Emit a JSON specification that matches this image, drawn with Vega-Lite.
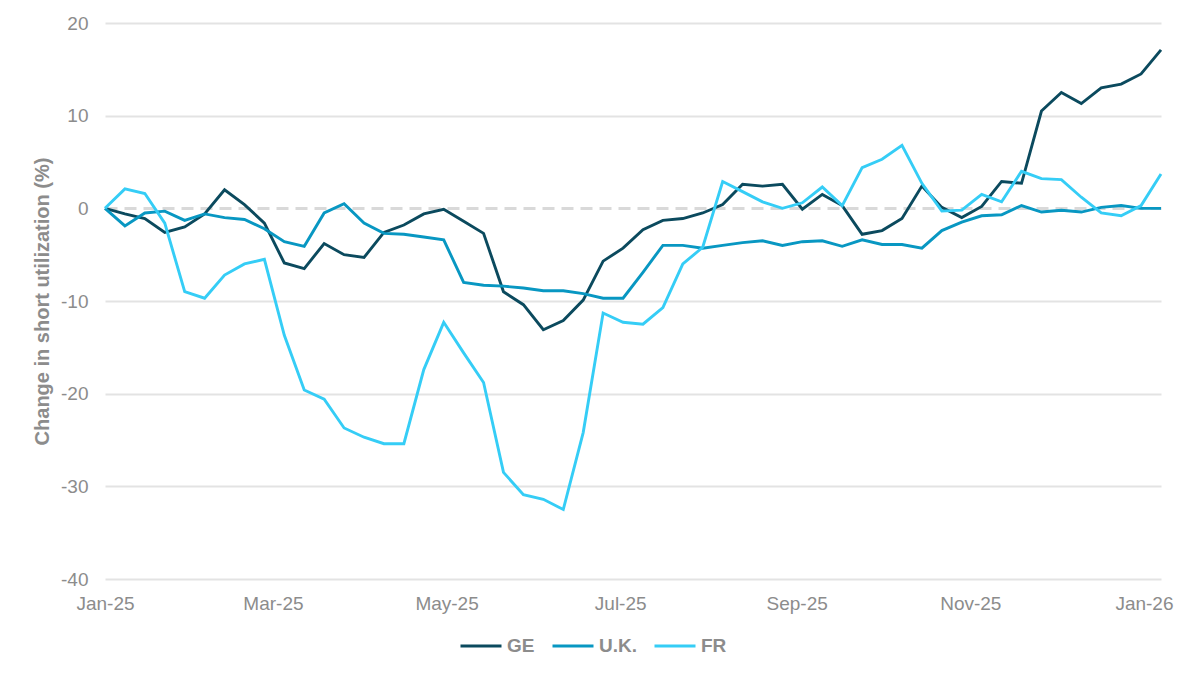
{
  "$schema": "https://vega.github.io/schema/vega-lite/v6.json",
  "width": 1056,
  "height": 556,
  "autosize": {"type": "none"},
  "padding": {"left": 105, "top": 23, "right": 25, "bottom": 99},
  "background": "#ffffff",
  "config": {
    "view": {"stroke": null},
    "font": "Liberation Sans"
  },
  "datasets": {
    "wide": [
      {"date": "2025-01-01", "GE": 0, "UK": 0, "FR": 0},
      {"date": "2025-01-08", "GE": -0.6, "UK": -1.9, "FR": 2.1},
      {"date": "2025-01-15", "GE": -1.1, "UK": -0.5, "FR": 1.6},
      {"date": "2025-01-22", "GE": -2.6, "UK": -0.3, "FR": -1.6},
      {"date": "2025-01-29", "GE": -2.0, "UK": -1.3, "FR": -9.0},
      {"date": "2025-02-05", "GE": -0.6, "UK": -0.6, "FR": -9.7},
      {"date": "2025-02-12", "GE": 2.0, "UK": -1.0, "FR": -7.2},
      {"date": "2025-02-19", "GE": 0.4, "UK": -1.2, "FR": -6.0},
      {"date": "2025-02-26", "GE": -1.6, "UK": -2.2, "FR": -5.5},
      {"date": "2025-03-05", "GE": -5.9, "UK": -3.6, "FR": -13.7},
      {"date": "2025-03-12", "GE": -6.5, "UK": -4.1, "FR": -19.6},
      {"date": "2025-03-19", "GE": -3.8, "UK": -0.5, "FR": -20.6},
      {"date": "2025-03-26", "GE": -5.0, "UK": 0.5, "FR": -23.7},
      {"date": "2025-04-02", "GE": -5.3, "UK": -1.6, "FR": -24.7},
      {"date": "2025-04-09", "GE": -2.6, "UK": -2.7, "FR": -25.4},
      {"date": "2025-04-16", "GE": -1.8, "UK": -2.8, "FR": -25.4},
      {"date": "2025-04-23", "GE": -0.6, "UK": -3.1, "FR": -17.4},
      {"date": "2025-04-30", "GE": -0.1, "UK": -3.4, "FR": -12.3},
      {"date": "2025-05-07", "GE": -1.4, "UK": -8.0, "FR": -15.6},
      {"date": "2025-05-14", "GE": -2.7, "UK": -8.3, "FR": -18.8},
      {"date": "2025-05-21", "GE": -9.0, "UK": -8.4, "FR": -28.5},
      {"date": "2025-05-28", "GE": -10.4, "UK": -8.6, "FR": -30.9},
      {"date": "2025-06-04", "GE": -13.1, "UK": -8.9, "FR": -31.4},
      {"date": "2025-06-11", "GE": -12.1, "UK": -8.9, "FR": -32.5},
      {"date": "2025-06-18", "GE": -9.9, "UK": -9.2, "FR": -24.2},
      {"date": "2025-06-25", "GE": -5.7, "UK": -9.7, "FR": -11.3},
      {"date": "2025-07-02", "GE": -4.3, "UK": -9.7, "FR": -12.3},
      {"date": "2025-07-09", "GE": -2.3, "UK": -6.9, "FR": -12.5},
      {"date": "2025-07-16", "GE": -1.3, "UK": -4.0, "FR": -10.7},
      {"date": "2025-07-23", "GE": -1.1, "UK": -4.0, "FR": -6.0},
      {"date": "2025-07-30", "GE": -0.5, "UK": -4.3, "FR": -4.2},
      {"date": "2025-08-06", "GE": 0.4, "UK": -4.0, "FR": 2.9},
      {"date": "2025-08-13", "GE": 2.6, "UK": -3.7, "FR": 1.8},
      {"date": "2025-08-20", "GE": 2.4, "UK": -3.5, "FR": 0.7},
      {"date": "2025-08-27", "GE": 2.6, "UK": -4.0, "FR": 0.0},
      {"date": "2025-09-03", "GE": -0.1, "UK": -3.6, "FR": 0.6},
      {"date": "2025-09-10", "GE": 1.5, "UK": -3.5, "FR": 2.3},
      {"date": "2025-09-17", "GE": 0.3, "UK": -4.1, "FR": 0.3},
      {"date": "2025-09-24", "GE": -2.8, "UK": -3.4, "FR": 4.4},
      {"date": "2025-10-01", "GE": -2.4, "UK": -3.9, "FR": 5.3},
      {"date": "2025-10-08", "GE": -1.1, "UK": -3.9, "FR": 6.8},
      {"date": "2025-10-15", "GE": 2.4, "UK": -4.3, "FR": 2.7},
      {"date": "2025-10-22", "GE": 0.1, "UK": -2.4, "FR": -0.3},
      {"date": "2025-10-29", "GE": -1.0, "UK": -1.5, "FR": -0.2},
      {"date": "2025-11-05", "GE": 0.2, "UK": -0.8, "FR": 1.5},
      {"date": "2025-11-12", "GE": 2.9, "UK": -0.7, "FR": 0.7},
      {"date": "2025-11-19", "GE": 2.7, "UK": 0.3, "FR": 4.0},
      {"date": "2025-11-26", "GE": 10.5, "UK": -0.4, "FR": 3.2},
      {"date": "2025-12-03", "GE": 12.5, "UK": -0.2, "FR": 3.1},
      {"date": "2025-12-10", "GE": 11.3, "UK": -0.4, "FR": 1.2},
      {"date": "2025-12-17", "GE": 13.0, "UK": 0.1, "FR": -0.5},
      {"date": "2025-12-24", "GE": 13.4, "UK": 0.3, "FR": -0.8},
      {"date": "2025-12-31", "GE": 14.5, "UK": 0.0, "FR": 0.3},
      {"date": "2026-01-07", "GE": 17.1, "UK": 0.0, "FR": 3.7}
    ]
  },
  "data": {"name": "wide"},
  "transform": [
    {"fold": ["GE", "UK", "FR"], "as": ["country", "value"]}
  ],
  "mark": {"type": "line", "strokeWidth": 2.9, "interpolate": "linear"},
  "encoding": {
    "x": {
      "field": "date",
      "type": "temporal",
      "scale": {
        "type": "utc",
        "domain": [
          {"year": 2025, "month": 1, "date": 1, "utc": true},
          {"year": 2026, "month": 1, "date": 7, "utc": true}
        ],
        "nice": false
      },
      "axis": {
        "title": null,
        "format": "%b-%y",
        "values": [
          {"year": 2025, "month": 1, "date": 1, "utc": true},
          {"year": 2025, "month": 3, "date": 1, "utc": true},
          {"year": 2025, "month": 5, "date": 1, "utc": true},
          {"year": 2025, "month": 7, "date": 1, "utc": true},
          {"year": 2025, "month": 9, "date": 1, "utc": true},
          {"year": 2025, "month": 11, "date": 1, "utc": true},
          {"year": 2026, "month": 1, "date": 1, "utc": true}
        ],
        "grid": false,
        "domain": false,
        "ticks": false,
        "labelPadding": 15,
        "labelFontSize": 19,
        "labelColor": "#8c8c8c",
        "labelFont": "Liberation Sans",
        "labelAlign": "center",
        "labelOverlap": false,
        "labelFlush": false
      }
    },
    "y": {
      "field": "value",
      "type": "quantitative",
      "scale": {"domain": [-40, 20], "nice": false, "zero": false},
      "axis": {
        "title": "Change in short utilization (%)",
        "titleFontSize": 20,
        "titleFontWeight": "bold",
        "titleColor": "#8c8c8c",
        "titleFont": "Liberation Sans",
        "titlePadding": 8,
        "values": [-40, -30, -20, -10, 0, 10, 20],
        "labelExpr": "datum.value + ''",
        "domain": false,
        "ticks": false,
        "labelPadding": 17,
        "labelFontSize": 19,
        "labelColor": "#8c8c8c",
        "labelFont": "Liberation Sans",
        "grid": true,
        "gridColor": {"condition": {"test": "datum.value === 0", "value": "#d9d9d9"}, "value": "#e3e3e3"},
        "gridWidth": {"condition": {"test": "datum.value === 0", "value": 3}, "value": 2},
        "gridDash": {"condition": {"test": "datum.value === 0", "value": [12, 7]}, "value": []}
      }
    },
    "color": {
      "field": "country",
      "type": "nominal",
      "sort": ["GE", "UK", "FR"],
      "scale": {"domain": ["GE", "UK", "FR"], "range": ["#0b4a5e", "#0897c2", "#35cdf6"]},
      "legend": {
        "title": null,
        "orient": "none",
        "direction": "horizontal",
        "legendX": 354,
        "legendY": 601,
        "symbolType": "stroke",
        "symbolSize": 1681,
        "symbolStrokeWidth": 3,
        "labelOffset": 4,
        "columnPadding": 11,
        "labelFontSize": 19,
        "labelFontWeight": "bold",
        "labelColor": "#8c8c8c",
        "labelFont": "Liberation Sans",
        "labelExpr": "datum.label === 'UK' ? 'U.K.' : datum.label"
      }
    }
  }
}
